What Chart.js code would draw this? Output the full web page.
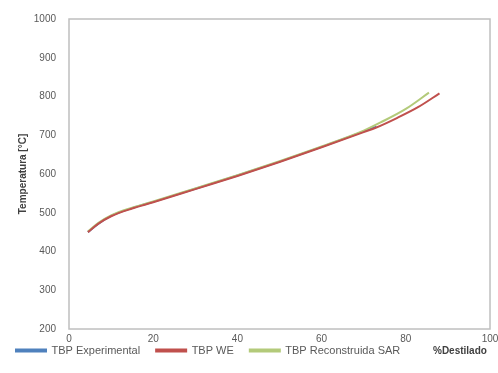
<!DOCTYPE html>
<html>
<head>
<meta charset="utf-8">
<script src="https://cdn.jsdelivr.net/npm/chart.js@4"></script>
<style>
  html, body { margin: 0; padding: 0; background: #fff; }
  #wrap { width: 498px; height: 373px; }
</style>
</head>
<body>
<div id="wrap"><canvas id="tbpChart"></canvas></div>
<script>
// values (% destilado, temperatura °C)
const expX = [4.5, 7, 10, 15, 20, 30, 40, 50, 60, 70, 73];
const expY = [450, 472, 492, 512, 528, 562, 596, 632, 670, 710, 722];
const weX = [4.5, 7, 10, 15, 20, 30, 40, 50, 60, 70, 73, 78, 83, 88];
const weY = [450, 472, 491, 511, 527, 561, 595, 631, 669, 708, 720, 745, 773, 808];
const sarX = [4.5, 7, 10, 15, 20, 30, 40, 50, 60, 70, 74, 80, 85.5];
const sarY = [452, 474, 493, 513, 529, 563, 597, 633, 671, 712, 733, 768, 810];
const xTicks = [0, 20, 40, 60, 80, 100];
const yTicks = [200, 300, 400, 500, 600, 700, 800, 900, 1000];

const LEGEND_PAD = 16;

function toPoints(xs, ys) {
  return xs.map((x, i) => ({ x: x, y: ys[i] }));
}

// keep the wide spacing between legend items but a short legend row
const legendRowPlugin = {
  id: "legendRow",
  afterInit(chart) {
    const lg = chart.legend;
    const fit = lg.fit.bind(lg);
    lg.fit = function () {
      fit();
      this.height = 23;
    };
    const draw = lg.draw.bind(lg);
    lg.draw = function () {
      const top = this.top;
      this.top = top - LEGEND_PAD - 4;
      draw();
      this.top = top;
    };
  },
};

// box around the plot area + x title beside the legend
const framePlugin = {
  id: "frame",
  afterDraw(chart) {
    const ctx = chart.ctx;
    const a = chart.chartArea;
    ctx.save();
    ctx.strokeStyle = "#bfbfbf";
    ctx.lineWidth = 1.5;
    ctx.strokeRect(a.left, a.top, a.right - a.left, a.bottom - a.top);
    ctx.fillStyle = "#404040";
    ctx.font = "bold 10px 'Liberation Sans', Arial, sans-serif";
    ctx.textBaseline = "middle";
    ctx.fillText("%Destilado", 433, chart.legend.top + 2);
    ctx.restore();
  },
};

const ctx = document.getElementById("tbpChart").getContext("2d");
new Chart(ctx, {
  type: "line",
  data: {
    datasets: [
      {
        label: "TBP Experimental",
        data: toPoints(expX, expY),
        borderColor: "#4F81BD",
        backgroundColor: "#4F81BD",
        borderWidth: 2,
        order: 3,
      },
      {
        label: "TBP WE",
        data: toPoints(weX, weY),
        borderColor: "#C0504D",
        backgroundColor: "#C0504D",
        borderWidth: 2,
        order: 1,
      },
      {
        label: "TBP Reconstruida SAR",
        data: toPoints(sarX, sarY),
        borderColor: "#B3CA7A",
        backgroundColor: "#B3CA7A",
        borderWidth: 2,
        order: 2,
      },
    ],
  },
  options: {
    responsive: true,
    maintainAspectRatio: false,
    animation: false,
    elements: {
      point: { radius: 0 },
      line: { tension: 0.4, cubicInterpolationMode: "monotone" },
    },
    layout: { padding: { left: 0, right: 0, top: 13, bottom: 1 } },
    scales: {
      x: {
        type: "linear",
        min: 0,
        max: 100,
        afterBuildTicks: (axis) => { axis.ticks = xTicks.map((v) => ({ value: v })); },
        afterFit: (axis) => { axis.paddingRight = 8; },
        grid: { display: false, drawTicks: false },
        border: { display: false },
        ticks: {
          color: "#595959",
          padding: 4,
          maxRotation: 0,
          font: { size: 10, family: "'Liberation Sans', Arial, sans-serif" },
        },
      },
      y: {
        min: 200,
        max: 1000,
        afterBuildTicks: (axis) => { axis.ticks = yTicks.map((v) => ({ value: v })); },
        afterFit: (axis) => { axis.width = 69; },
        grid: { display: false, drawTicks: false },
        border: { display: false },
        title: {
          display: true,
          text: "Temperatura [°C]",
          color: "#404040",
          padding: { top: 17, bottom: 0 },
          font: { size: 10, weight: "bold", family: "'Liberation Sans', Arial, sans-serif" },
        },
        ticks: {
          color: "#595959",
          padding: 13,
          callback: (v) => String(v),
          font: { size: 10, family: "'Liberation Sans', Arial, sans-serif" },
        },
      },
    },
    plugins: {
      legend: {
        position: "bottom",
        align: "start",
        labels: {
          color: "#595959",
          boxWidth: 30,
          boxHeight: 2,
          padding: LEGEND_PAD,
          sort: (a, b) => a.datasetIndex - b.datasetIndex,
          font: { size: 11, family: "'Liberation Sans', Arial, sans-serif" },
        },
      },
      tooltip: { enabled: false },
    },
  },
  plugins: [legendRowPlugin, framePlugin],
});
</script>
</body>
</html>
